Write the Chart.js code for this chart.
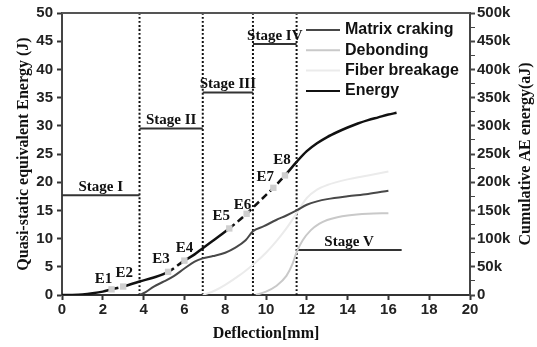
<!DOCTYPE html>
<html>
<head>
<meta charset="utf-8">
<script src="https://cdn.jsdelivr.net/npm/chart.js@4"></script>
<style>
  html, body { margin: 0; padding: 0; background: #fff; }
  #wrap { width: 537px; height: 347px; }
</style>
</head>
<body>
<div id="wrap"><canvas id="chart"></canvas></div>
<script>
// deflection [mm] vs quasi-static equivalent energy [J]
const energyX = [0, 0.5, 1.0, 1.5, 2.0, 2.43, 3.0, 3.8, 4.5, 5.2, 6.0, 6.5, 6.9, 7.5, 8.2, 9.05, 9.36, 10.36, 10.93, 11.5, 12.0, 12.5, 13.0, 13.5, 14.0, 14.5, 15.0, 15.5, 16.0, 16.4];
const energyY = [0, 0.02, 0.1, 0.3, 0.6, 1.0, 1.5, 2.4, 3.1, 4.1, 6.1, 7.2, 8.3, 9.9, 11.8, 14.4, 15.5, 19.0, 21.2, 23.6, 25.5, 26.9, 28.0, 28.9, 29.7, 30.4, 31.0, 31.5, 32.0, 32.3];

// cumulative AE energy [aJ]
const matrixX = [3.8, 4.1, 4.5, 5.0, 5.5, 6.0, 6.5, 6.9, 7.4, 8.0, 8.5, 9.0, 9.36, 9.9, 10.5, 11.0, 11.5, 12.0, 12.5, 13.0, 14.0, 15.0, 16.0];
const matrixY = [0, 5000, 15000, 24000, 34000, 47000, 59000, 65000, 69000, 75000, 84000, 97000, 113000, 122000, 133000, 141000, 150000, 160000, 166000, 170000, 175000, 179000, 185000];
const debondX = [9.5, 10.0, 10.5, 11.0, 11.3, 11.5, 11.8, 12.2, 12.6, 13.0, 13.5, 14.0, 15.0, 16.0];
const debondY = [0, 6000, 16000, 34000, 55000, 76000, 97000, 115000, 126000, 133000, 138000, 141000, 144000, 145000];
const fiberX = [6.9, 7.5, 8.0, 8.5, 9.0, 9.5, 10.0, 10.5, 11.0, 11.5, 12.0, 12.5, 13.0, 14.0, 15.0, 16.0];
const fiberY = [0, 8000, 18000, 30000, 43000, 58000, 75000, 95000, 118000, 145000, 172000, 187000, 195000, 205000, 212000, 219000];

// marked points on the energy curve
const eNames = ['E1', 'E2', 'E3', 'E4', 'E5', 'E6', 'E7', 'E8'];
const eX = [2.43, 3.0, 5.2, 6.0, 8.2, 9.05, 10.36, 10.93];
const eY = [1.0, 1.5, 4.1, 6.1, 11.8, 14.4, 19.0, 21.2];

// stages
const stageNames = ['Stage I', 'Stage II', 'Stage III', 'Stage IV', 'Stage V'];
const stageFrom = [0, 3.8, 6.9, 9.36, 11.5];
const stageTo = [3.8, 6.9, 9.36, 11.5, 16.65];
const stageLevel = [17.7, 29.5, 35.9, 44.5, 8.0];
const boundaries = [3.8, 6.9, 9.36, 11.5];

// label nudges (px) for the E tags
const eNudge = [[-8, -10], [1, -13], [-7, -13], [0, -12], [-8, -12], [-4, -9], [-8, -11], [-3, -15]];

const pts = (xs, ys) => xs.map((x, i) => ({ x: x, y: ys[i] }));
const dashRanges = [[eX[0], eX[1]], [eX[2], eX[3]], [eX[4], eX[7]]];

const serif = '"Liberation Serif", "Times New Roman", serif';
const sans = '"Liberation Sans", Arial, sans-serif';

Chart.defaults.font.family = sans;

const datasets = [
  { label: 'Matrix craking', data: pts(matrixX, matrixY), yAxisID: 'y2', borderColor: '#484848', borderWidth: 2, order: 2 },
  { label: 'Debonding', data: pts(debondX, debondY), yAxisID: 'y2', borderColor: '#c9c9c9', borderWidth: 2, order: 3 },
  { label: 'Fiber breakage', data: pts(fiberX, fiberY), yAxisID: 'y2', borderColor: '#ebebeb', borderWidth: 2, order: 4 },
  {
    label: 'Energy', data: pts(energyX, energyY), yAxisID: 'y', borderColor: '#111', borderWidth: 2.5, order: 1,
    segment: {
      borderDash: c => dashRanges.some(r => c.p0.parsed.x >= r[0] - 1e-6 && c.p1.parsed.x <= r[1] + 1e-6) ? [7, 4] : undefined
    }
  },
  {
    label: 'marks', data: pts(eX, eY), yAxisID: 'y', showLine: false, order: 0,
    pointStyle: 'rect', pointRadius: 4.5, pointBackgroundColor: '#cfcfcf', pointBorderWidth: 0
  }
];
stageNames.forEach((n, i) => {
  datasets.push({ label: n, data: [{ x: stageFrom[i], y: stageLevel[i] }, { x: stageTo[i], y: stageLevel[i] }],
    yAxisID: 'y', borderColor: '#333', borderWidth: 2, order: 5 });
});
boundaries.forEach(b => {
  datasets.push({ label: 'b' + b, data: [{ x: b, y: 0 }, { x: b, y: 50 }],
    yAxisID: 'y', borderColor: '#111', borderWidth: 2, borderDash: [2, 2], order: 6 });
});

const overlay = {
  id: 'overlay',
  afterDatasetsDraw(chart) {
    const { ctx, chartArea: a, scales: { x, y } } = chart;
    ctx.save();
    // frame top
    ctx.strokeStyle = '#555';
    ctx.lineWidth = 2;
    ctx.beginPath();
    ctx.moveTo(a.left, a.top);
    ctx.lineTo(a.right, a.top);
    ctx.stroke();

    ctx.fillStyle = '#111';
    ctx.font = 'bold 15px ' + serif;
    ctx.textAlign = 'center';
    ctx.textBaseline = 'middle';
    stageNames.forEach((n, i) => {
      const cx = (x.getPixelForValue(stageFrom[i]) + x.getPixelForValue(stageTo[i])) / 2;
      ctx.fillText(n, cx, y.getPixelForValue(stageLevel[i]) - 8);
    });
    eNames.forEach((n, i) => {
      ctx.fillText(n, x.getPixelForValue(eX[i]) + eNudge[i][0], y.getPixelForValue(eY[i]) + eNudge[i][1]);
    });

    // legend
    ctx.font = 'bold 16px ' + sans;
    ctx.textAlign = 'left';
    for (let i = 0; i < 4; i++) {
      const ds = chart.data.datasets[i];
      const ly = 30 + i * 20.3;
      ctx.strokeStyle = ds.borderColor;
      ctx.lineWidth = 2;
      ctx.setLineDash([]);
      ctx.beginPath();
      ctx.moveTo(306, ly);
      ctx.lineTo(340, ly);
      ctx.stroke();
      ctx.fillStyle = '#111';
      ctx.fillText(ds.label, 345, ly);
    }

    // right axis title, reading upwards
    ctx.font = 'bold 16px ' + serif;
    ctx.textAlign = 'center';
    ctx.translate(526, (a.top + a.bottom) / 2);
    ctx.rotate(-Math.PI / 2);
    ctx.fillText('Cumulative AE energy(aJ)', 0, 0);
    ctx.restore();
  }
};

new Chart(document.getElementById('chart'), {
  type: 'line',
  data: { datasets: datasets },
  options: {
    responsive: true,
    maintainAspectRatio: false,
    animation: false,
    cubicInterpolationMode: 'monotone',
    elements: { point: { radius: 0 } },
    layout: { padding: { top: 12, left: 0, right: 0, bottom: 0 } },
    plugins: { legend: { display: false }, tooltip: { enabled: false } },
    scales: {
      x: {
        type: 'linear', min: 0, max: 20,
        afterFit: s => { s.height = 52; },
        ticks: { stepSize: 2, padding: 1, color: '#222', font: { size: 15, weight: 'bold' } },
        grid: { drawOnChartArea: false, tickLength: 5, color: '#333', tickWidth: 2 },
        border: { color: '#333', width: 2 },
        title: { display: true, text: 'Deflection[mm]', color: '#111', padding: { top: 0, bottom: 4 },
          font: { family: serif, size: 16, weight: 'bold' } }
      },
      y: {
        position: 'left', min: 0, max: 50,
        afterFit: s => { s.width = 62; },
        ticks: { stepSize: 5, padding: 4, color: '#222', font: { size: 15, weight: 'bold' } },
        grid: { drawOnChartArea: false, tickLength: 5, color: '#333', tickWidth: 2 },
        border: { color: '#444', width: 2 },
        title: { display: true, text: 'Quasi-static equivalent Energy (J)', color: '#111', padding: { top: 14, bottom: 0 },
          font: { family: serif, size: 16, weight: 'bold' } }
      },
      y2: {
        position: 'right', min: 0, max: 500000,
        afterFit: s => { s.width = 67; },
        ticks: {
          stepSize: 25000, autoSkip: false, padding: 2, color: '#222', font: { size: 15, weight: 'bold' },
          callback: v => v % 50000 !== 0 ? '' : (v === 0 ? '0' : (v / 1000) + 'k')
        },
        grid: { drawOnChartArea: false, tickLength: 5, color: '#444', tickWidth: c => (c.tick && c.tick.value % 50000 === 0) ? 2 : 1 },
        border: { color: '#444', width: 2 }
      }
    }
  },
  plugins: [overlay]
});
</script>
</body>
</html>
